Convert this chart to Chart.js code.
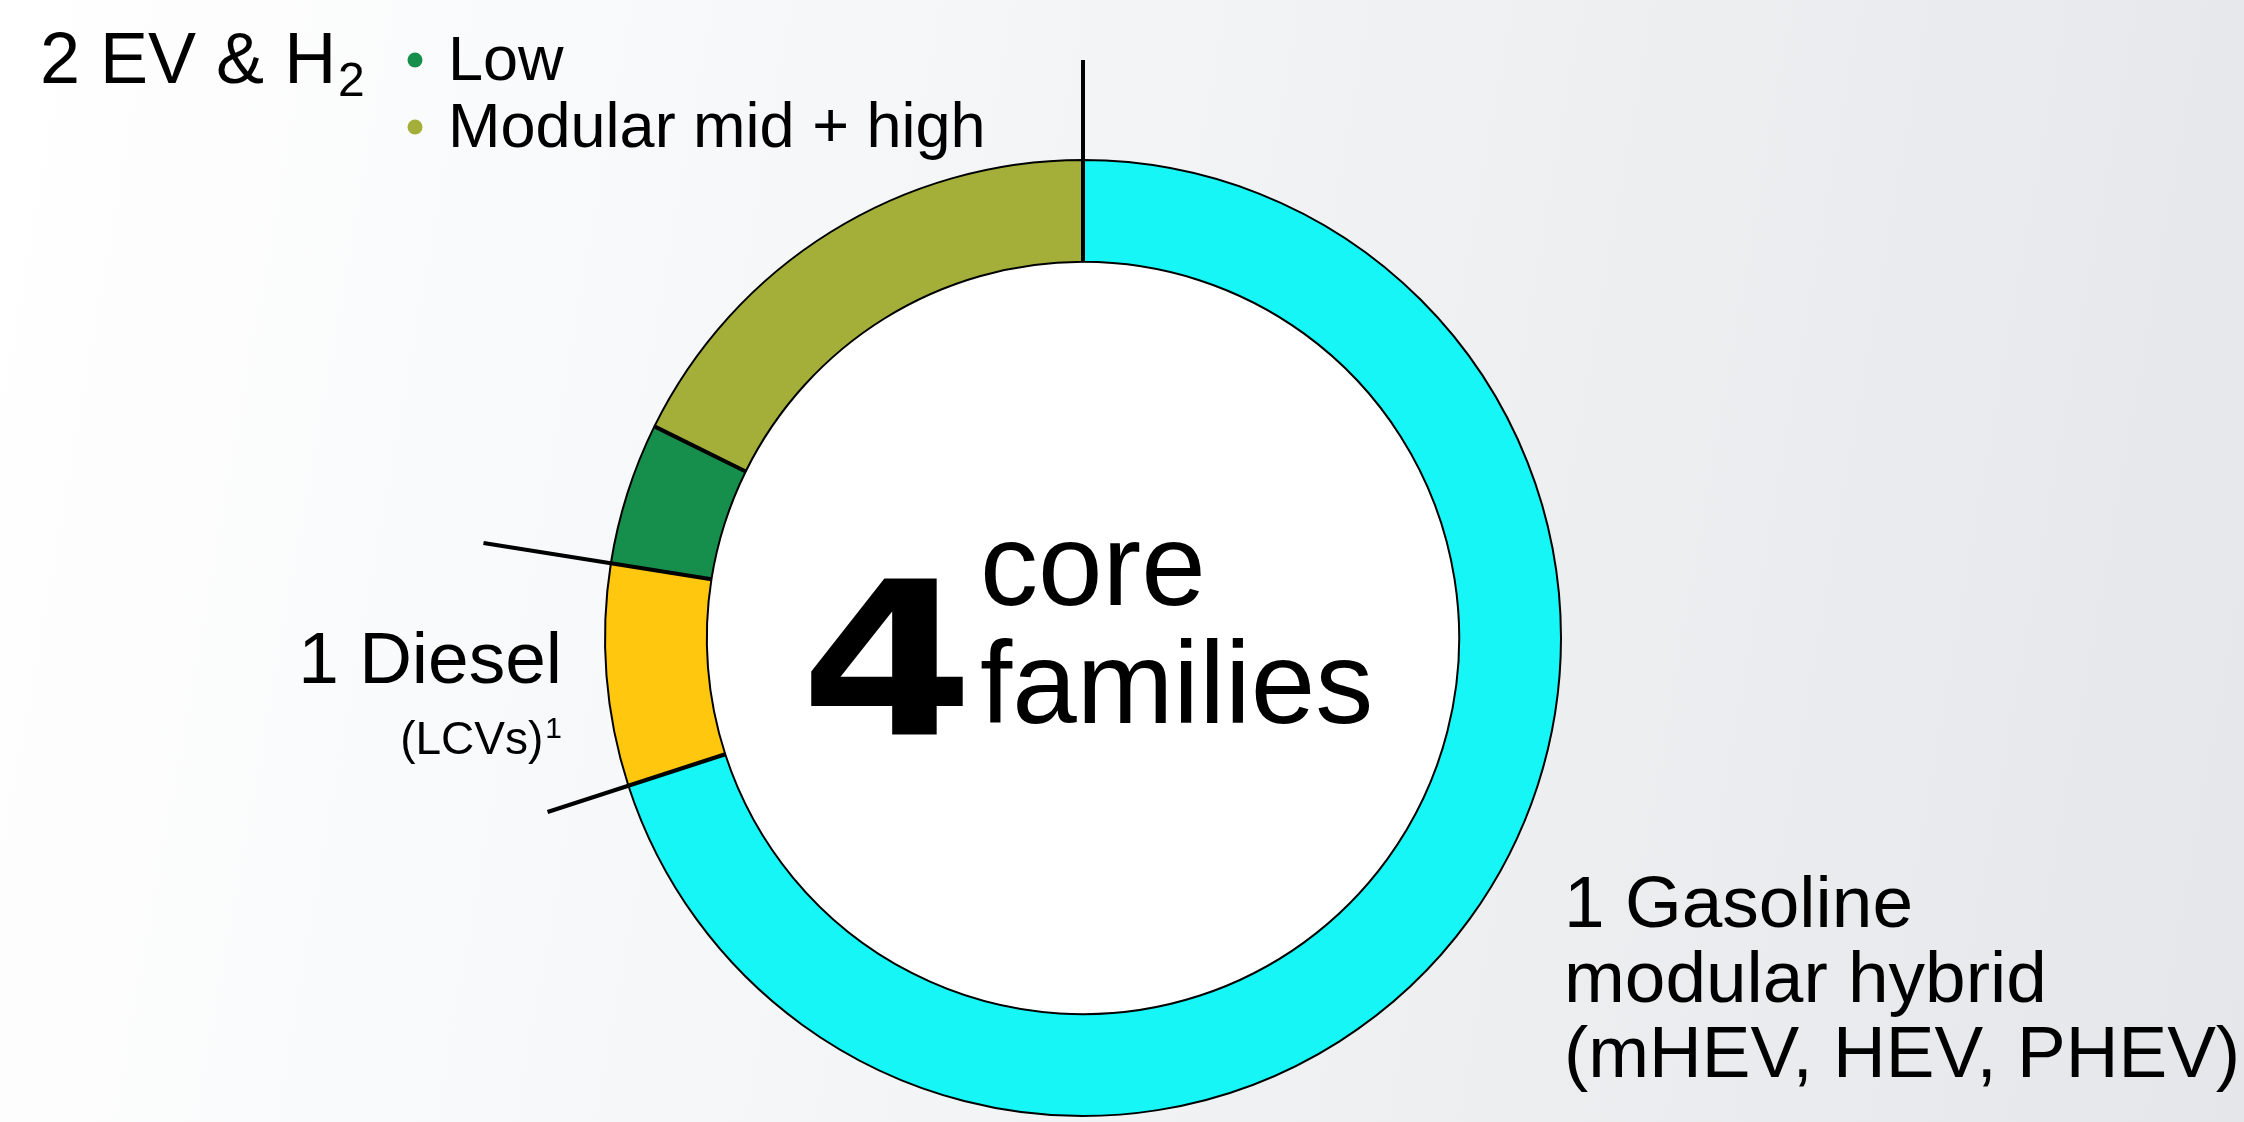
<!DOCTYPE html>
<html>
<head>
<meta charset="utf-8">
<title>Powertrain families</title>
<script src="https://cdn.jsdelivr.net/npm/chart.js@4.4.1/dist/chart.umd.min.js"></script>
<style>
    html, body { margin: 0; padding: 0; }
    body {
        width: 2244px; height: 1122px; overflow: hidden;
        background: linear-gradient(100deg, #ffffff 0%, #f6f7f9 35%, #eceef0 70%, #e4e6e9 100%);
    }
    #wrap { position: relative; width: 2244px; height: 1122px; }
</style>
</head>
<body>
<div id="wrap"><canvas id="familiesChart" width="2244" height="1122"></canvas></div>
<script>
// slices, clockwise from 12 o'clock
const segmentLabels = ['Gasoline modular hybrid', 'Diesel (LCVs)', 'EV & H2 Low', 'EV & H2 Modular mid + high'];
const segmentValues = [70, 7.5, 4.8, 17.7];
const segmentColors = ['#17f6f6', '#ffc70e', '#178f4c', '#a4af3a'];

// text blocks around the ring
const evTitle = ['2 EV & H', '2'];           // main + subscript
const evLegend = ['Low', 'Modular mid + high'];
const dieselLines = ['1 Diesel', '(LCVs)', '1'];
const gasolineLines = ['1 Gasoline', 'modular hybrid', '(mHEV, HEV, PHEV)'];
const centerNumber = '4';
const centerWords = ['core', 'families'];

const FONT = '"Liberation Sans", Arial, sans-serif';

// white disc in the hole + thick radial boundaries with leader lines
const ringExtras = {
    id: 'ringExtras',
    beforeDatasetsDraw(chart) {
        const arc = chart.getDatasetMeta(0).data[0];
        if (!arc) return;
        const ctx = chart.ctx;
        ctx.save();
        ctx.beginPath();
        ctx.arc(arc.x, arc.y, arc.innerRadius, 0, Math.PI * 2);
        ctx.fillStyle = '#ffffff';
        ctx.fill();
        ctx.restore();
    },
    afterDatasetsDraw(chart, args, opts) {
        const ctx = chart.ctx;
        const arcs = chart.getDatasetMeta(0).data;
        ctx.save();
        ctx.strokeStyle = '#000';
        ctx.lineCap = 'butt';
        arcs.forEach((a, i) => {
            const ang = a.startAngle;
            const reach = opts.leaders[i] || a.outerRadius;
            ctx.lineWidth = opts.width;
            ctx.beginPath();
            ctx.moveTo(a.x + Math.cos(ang) * a.innerRadius, a.y + Math.sin(ang) * a.innerRadius);
            ctx.lineTo(a.x + Math.cos(ang) * reach, a.y + Math.sin(ang) * reach);
            ctx.stroke();
        });
        ctx.restore();
    }
};

const textLayer = {
    id: 'textLayer',
    afterDraw(chart) {
        const ctx = chart.ctx;
        ctx.save();
        ctx.fillStyle = '#000';
        ctx.textBaseline = 'alphabetic';

        // top-left title with subscript
        ctx.textAlign = 'left';
        ctx.font = `72px ${FONT}`;
        ctx.fillText(evTitle[0], 40, 83);
        const w = ctx.measureText(evTitle[0]).width;
        ctx.font = `48px ${FONT}`;
        ctx.fillText(evTitle[1], 40 + w + 2, 96);

        // legend bullets
        const bullets = [segmentColors[2], segmentColors[3]];
        const rows = [80, 147];
        bullets.forEach((c, i) => {
            ctx.beginPath();
            ctx.arc(415, rows[i] - 20, 7.5, 0, Math.PI * 2);
            ctx.fillStyle = c;
            ctx.fill();
        });
        ctx.fillStyle = '#000';
        ctx.font = `63px ${FONT}`;
        evLegend.forEach((t, i) => ctx.fillText(t, 448, rows[i]));

        // diesel, right aligned
        ctx.textAlign = 'right';
        ctx.font = `73px ${FONT}`;
        ctx.fillText(dieselLines[0], 562, 683);
        ctx.font = `30px ${FONT}`;
        const sw = ctx.measureText(dieselLines[2]).width;
        ctx.fillText(dieselLines[2], 562, 738);
        ctx.font = `46px ${FONT}`;
        ctx.fillText(dieselLines[1], 562 - sw - 2, 754);

        // gasoline block
        ctx.textAlign = 'left';
        ctx.font = `73px ${FONT}`;
        gasolineLines.forEach((t, i) => ctx.fillText(t, 1564, 927 + i * 75));

        // centre
        ctx.save();
        ctx.translate(800, 734);
        ctx.scale(1.17, 1);
        ctx.font = `bold 214px "DejaVu Sans", ${FONT}`;
        ctx.fillText(centerNumber, 0, 0);
        ctx.restore();
        ctx.font = `116px ${FONT}`;
        ctx.fillText(centerWords[0], 980, 605);
        ctx.fillText(centerWords[1], 980, 723);

        ctx.restore();
    }
};

new Chart(document.getElementById('familiesChart'), {
    type: 'doughnut',
    data: {
        labels: segmentLabels,
        datasets: [{
            data: segmentValues,
            backgroundColor: segmentColors,
            borderColor: '#000',
            borderWidth: 2,
            hoverOffset: 0
        }]
    },
    options: {
        responsive: false,
        animation: false,
        cutout: '78.7%',
        rotation: 0,
        layout: { padding: { left: 604, right: 682, top: 159, bottom: 5 } },
        plugins: {
            legend: { display: false },
            tooltip: { enabled: false },
            ringExtras: { width: 4, leaders: [578, 563, 607, 0] }
        }
    },
    plugins: [ringExtras, textLayer]
});
</script>
</body>
</html>
